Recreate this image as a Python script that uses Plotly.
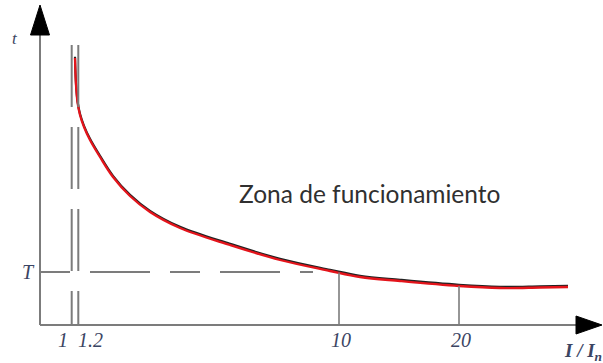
import plotly.graph_objects as go

# ---- data (schematic positions; x in axis units, y = time t) ----
curve_x = [3.5, 3.6, 3.75, 4.0, 4.4, 5.0, 6.0, 7.3, 9.0, 11.0, 14.0, 19.0, 24.0, 29.0, 32.0, 36.0, 41.9, 46.0, 50.0, 52.8]
curve_t = [26.7, 24.0, 22.3, 21.0, 19.8, 18.5, 16.8, 14.8, 12.9, 11.3, 9.7, 8.0, 6.5, 5.4, 4.8, 4.4, 3.9, 3.7, 3.75, 3.8]

tick_labels = ["1", "1.2", "10", "20"]
tick_pos = [3.17, 3.83, 29.9, 41.9]
T_value = 5.3
T_label = "T"
y_label = "t"
x_label = "I / I<sub>n</sub>"
zone_label = "Zona de funcionamiento"
curve_at_ticks = [5.25, 3.9]   # curve height at 10 and 20

GRAY = "#7c7c7c"
LBL = "#3b4563"

fig = go.Figure()
# underlying black curve (original drawing) then red overlay
fig.add_trace(go.Scatter(x=curve_x, y=[v + 0.12 for v in curve_t], mode="lines",
                         line=dict(color="#222222", width=2.2, shape="spline", smoothing=1.0),
                         hoverinfo="skip", showlegend=False))
fig.add_trace(go.Scatter(x=curve_x, y=curve_t, mode="lines",
                         line=dict(color="#e4141b", width=2.3, shape="spline", smoothing=1.0),
                         showlegend=False))

shapes = []
# axes lines
shapes.append(dict(type="line", xref="x", yref="y", x0=0, y0=0, x1=53.8, y1=0,
                   line=dict(color=GRAY, width=2)))
shapes.append(dict(type="line", xref="x", yref="y", x0=0, y0=0, x1=0, y1=29.2,
                   line=dict(color=GRAY, width=2)))
# arrow heads
shapes.append(dict(type="path", xref="x", yref="y",
                   path="M 53.6 0.9 L 56.2 0 L 53.6 -0.9 Z",
                   fillcolor="black", line=dict(color="black", width=1)))
shapes.append(dict(type="path", xref="x", yref="y",
                   path="M -0.95 29.0 L 0 32.0 L 0.95 29.0 Z",
                   fillcolor="black", line=dict(color="black", width=1)))
# dashed vertical lines at 1 and 1.2
for p in tick_pos[:2]:
    shapes.append(dict(type="line", xref="x", yref="y", x0=p, y0=28.0, x1=p, y1=0,
                       line=dict(color=GRAY, width=2, dash="62px,20px")))
# dashed T line
shapes.append(dict(type="line", xref="x", yref="y", x0=0, y0=T_value, x1=27.3, y1=T_value,
                   line=dict(color=GRAY, width=2, dash="30px,20px,60px,20px")))
# solid verticals at 10 and 20
for p, h in zip(tick_pos[2:], curve_at_ticks):
    shapes.append(dict(type="line", xref="x", yref="y", x0=p, y0=0, x1=p, y1=h,
                       line=dict(color=GRAY, width=1.6)))

serif = "Liberation Serif"
ann = []
ann.append(dict(x=3.0, y=-1.5, text="<i>" + tick_labels[0] + "</i>", xanchor="right", yanchor="middle",
                showarrow=False, font=dict(family=serif, size=20, color=LBL)))
ann.append(dict(x=3.6, y=-1.5, text="<i>" + tick_labels[1] + "</i>", xanchor="left", yanchor="middle",
                showarrow=False, font=dict(family=serif, size=20, color=LBL)))
for lab, p in zip(tick_labels[2:], tick_pos[2:]):
    ann.append(dict(x=p + 0.2, y=-1.5, text="<i>" + lab + "</i>", xanchor="center", yanchor="middle",
                    showarrow=False, font=dict(family=serif, size=20, color=LBL)))
ann.append(dict(x=-1.2, y=T_value, text="<i>" + T_label + "</i>", xanchor="center", yanchor="middle",
                showarrow=False, font=dict(family=serif, size=20, color=LBL)))
ann.append(dict(x=-2.5, y=28.7, text="<i>" + y_label + "</i>", xanchor="center", yanchor="middle",
                showarrow=False, font=dict(family=serif, size=17, color=LBL)))
ann.append(dict(x=52.2, y=-2.7, text="<b><i>" + x_label + "</i></b>", xanchor="left", yanchor="middle",
                showarrow=False, font=dict(family=serif, size=19, color=LBL)))
ann.append(dict(x=32.9, y=13.2, text=zone_label, xanchor="center", yanchor="middle",
                showarrow=False, font=dict(family="Lato", size=24.5, color="#303030")))

fig.update_layout(
    width=603, height=363,
    margin=dict(l=0, r=0, t=0, b=0),
    paper_bgcolor="white", plot_bgcolor="white",
    xaxis=dict(range=[-4, 56.3], visible=False, fixedrange=True),
    yaxis=dict(range=[-3.8, 32.5], visible=False, fixedrange=True),
    shapes=shapes, annotations=ann, showlegend=False,
)
fig.write_html("out.html", config={"displayModeBar": False},
               post_script="document.body.style.margin='0px';document.body.style.overflow='hidden';")
